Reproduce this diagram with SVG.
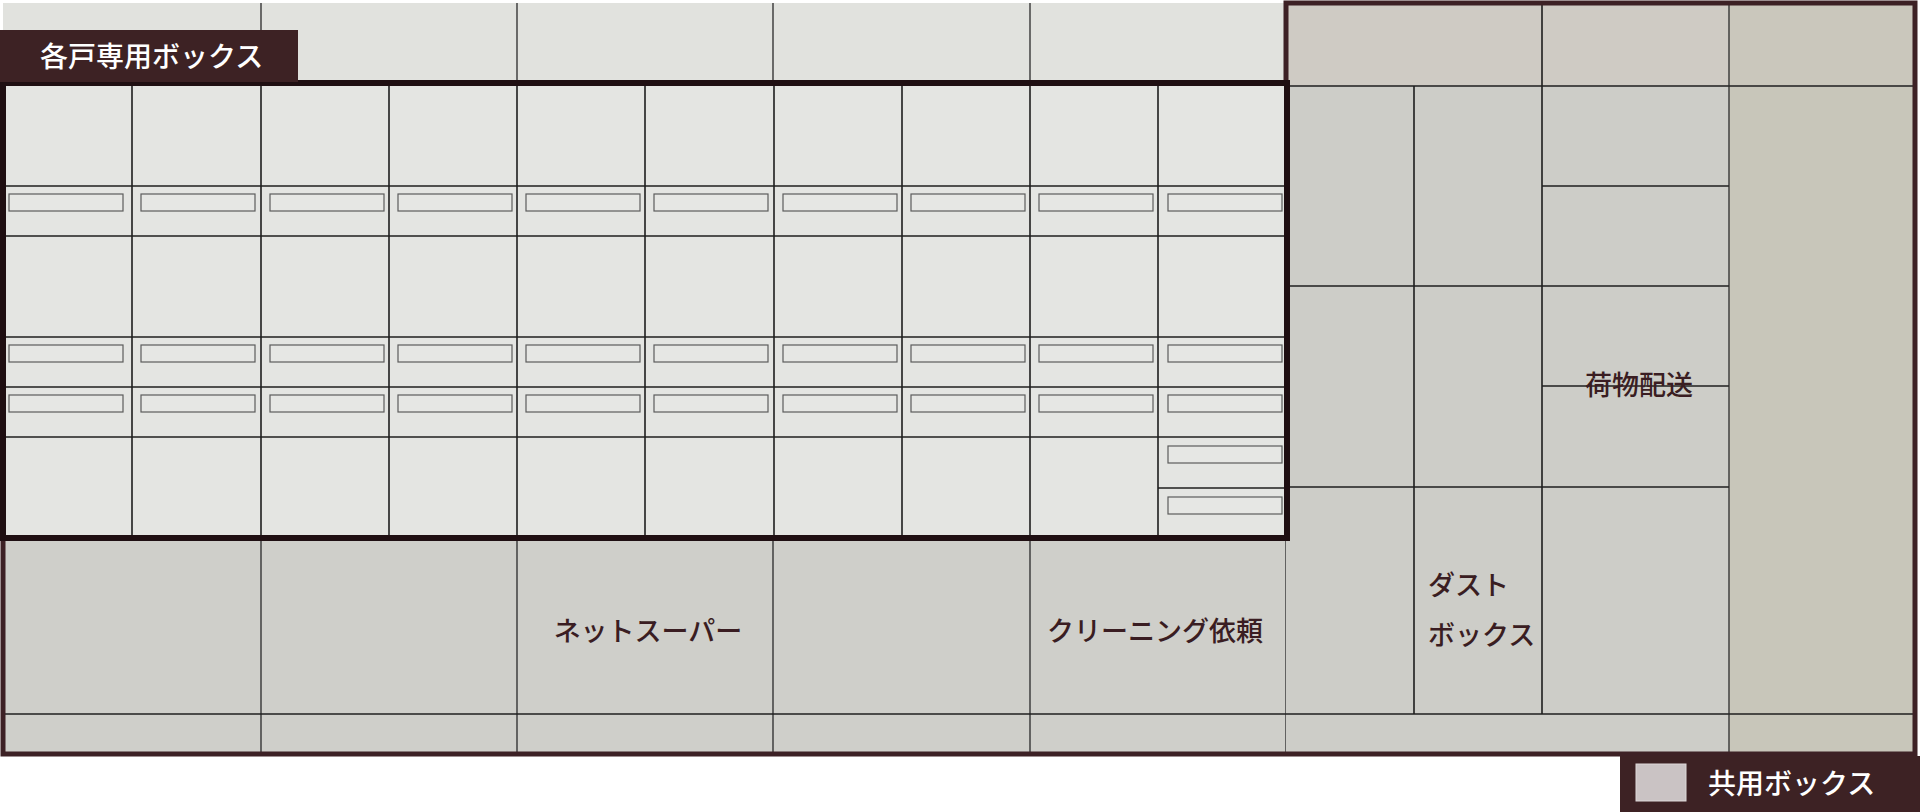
<svg xmlns="http://www.w3.org/2000/svg" width="1920" height="812" viewBox="0 0 1920 812">
<defs>
<style>
.ln{stroke:#1f1f1f;stroke-width:1.6;fill:none}
.ln2{stroke:#2a2a2a;stroke-width:1.3;fill:none}
.slot{fill:#e6e7e4;stroke:#5c5c5c;stroke-width:1.2}
.lbl{font-family:"Noto Sans CJK JP","Noto Sans",sans-serif;font-size:27px;font-weight:500;fill:#3a1d22}
.wlbl{font-family:"Noto Sans CJK JP","Noto Sans",sans-serif;font-size:28px;font-weight:500;fill:#ffffff}
</style>
</defs>
<rect width="1920" height="812" fill="#ffffff"/>

<!-- left section backgrounds -->
<g id="left-top-row">
<rect x="3" y="3" width="1283" height="80" fill="#e1e2de"/>
<path class="ln2" d="M261,3V83M517,3V83M773,3V83M1030,3V83"/>
</g>

<g id="private-boxes">
<rect x="3" y="83" width="1284" height="455" fill="#e4e5e2"/>
<path class="ln" d="M132,83V538M261,83V538M389,83V538M517,83V538M645,83V538M774,83V538M902,83V538M1030,83V538M1158,83V538"/>
<path class="ln" d="M3,186H1287M3,236H1287M3,337H1287M3,387H1287M3,437H1287M1158,488H1287"/>
<g id="slots">
<rect class="slot" x="9" y="194" width="114" height="17"/>
<rect class="slot" x="141" y="194" width="114" height="17"/>
<rect class="slot" x="270" y="194" width="114" height="17"/>
<rect class="slot" x="398" y="194" width="114" height="17"/>
<rect class="slot" x="526" y="194" width="114" height="17"/>
<rect class="slot" x="654" y="194" width="114" height="17"/>
<rect class="slot" x="783" y="194" width="114" height="17"/>
<rect class="slot" x="911" y="194" width="114" height="17"/>
<rect class="slot" x="1039" y="194" width="114" height="17"/>
<rect class="slot" x="1168" y="194" width="114" height="17"/>

<rect class="slot" x="9" y="345" width="114" height="17"/>
<rect class="slot" x="141" y="345" width="114" height="17"/>
<rect class="slot" x="270" y="345" width="114" height="17"/>
<rect class="slot" x="398" y="345" width="114" height="17"/>
<rect class="slot" x="526" y="345" width="114" height="17"/>
<rect class="slot" x="654" y="345" width="114" height="17"/>
<rect class="slot" x="783" y="345" width="114" height="17"/>
<rect class="slot" x="911" y="345" width="114" height="17"/>
<rect class="slot" x="1039" y="345" width="114" height="17"/>
<rect class="slot" x="1168" y="345" width="114" height="17"/>

<rect class="slot" x="9" y="395" width="114" height="17"/>
<rect class="slot" x="141" y="395" width="114" height="17"/>
<rect class="slot" x="270" y="395" width="114" height="17"/>
<rect class="slot" x="398" y="395" width="114" height="17"/>
<rect class="slot" x="526" y="395" width="114" height="17"/>
<rect class="slot" x="654" y="395" width="114" height="17"/>
<rect class="slot" x="783" y="395" width="114" height="17"/>
<rect class="slot" x="911" y="395" width="114" height="17"/>
<rect class="slot" x="1039" y="395" width="114" height="17"/>
<rect class="slot" x="1168" y="395" width="114" height="17"/>

<rect class="slot" x="1168" y="446" width="114" height="17"/>
<rect class="slot" x="1168" y="497" width="114" height="17"/>
</g>
</g>

<!-- bottom row of left section (common) -->
<g id="left-bottom-row">
<rect x="3" y="538" width="1283" height="214" fill="#cfcfca"/>
<path class="ln2" d="M261,538V752M517,538V752M773,538V752M1030,538V752M1286,538V752"/>
<path class="ln" d="M3,714H1286"/>
</g>

<g id="net-super">
<text class="lbl" x="648" y="641" text-anchor="middle">ネットスーパー</text>
</g>
<g id="cleaning">
<text class="lbl" x="1155" y="641" text-anchor="middle">クリーニング依頼</text>
</g>

<!-- right section (common) -->
<g id="common-boxes">
<rect x="1286" y="3" width="443" height="749" fill="#cdcdc8"/>
<rect x="1286" y="3" width="443" height="83" fill="#cfcbc4"/>
<rect x="1729" y="3" width="186" height="749" fill="#c8c6ba"/>
<rect x="1729" y="3" width="186" height="84" fill="#cac7bc"/>
<path class="ln" d="M1286,86H1914M1414,86V714M1542,3V714M1286,286H1729M1286,487H1729M1542,186H1729M1542,386H1729M1286,714H1914"/>
<path class="ln2" d="M1729,3V752"/>
</g>

<g id="parcel">
<text class="lbl" x="1639" y="395" text-anchor="middle">荷物配送</text>
</g>
<g id="dust-box">
<text class="lbl" x="1428" y="595">ダスト</text>
<text class="lbl" x="1428" y="645">ボックス</text>
</g>

<!-- frames -->
<g id="frames">
<path d="M1286,83V3H1915V754H3V538" fill="none" stroke="#3d2125" stroke-width="5"/>
<rect x="3" y="83" width="1284" height="455" fill="none" stroke="#1f0f12" stroke-width="6"/>
</g>

<g id="private-label">
<rect x="0" y="30" width="298" height="52" fill="#3d2224"/>
<text class="wlbl" x="40" y="67">各戸専用ボックス</text>
</g>

<g id="legend">
<rect x="1620" y="756" width="300" height="56" fill="#3d2224"/>
<rect x="1636" y="764" width="50" height="37" fill="#cac3c4" stroke="#ddd8d8" stroke-width="1"/>
<text class="wlbl" x="1708" y="794">共用ボックス</text>
</g>
</svg>
